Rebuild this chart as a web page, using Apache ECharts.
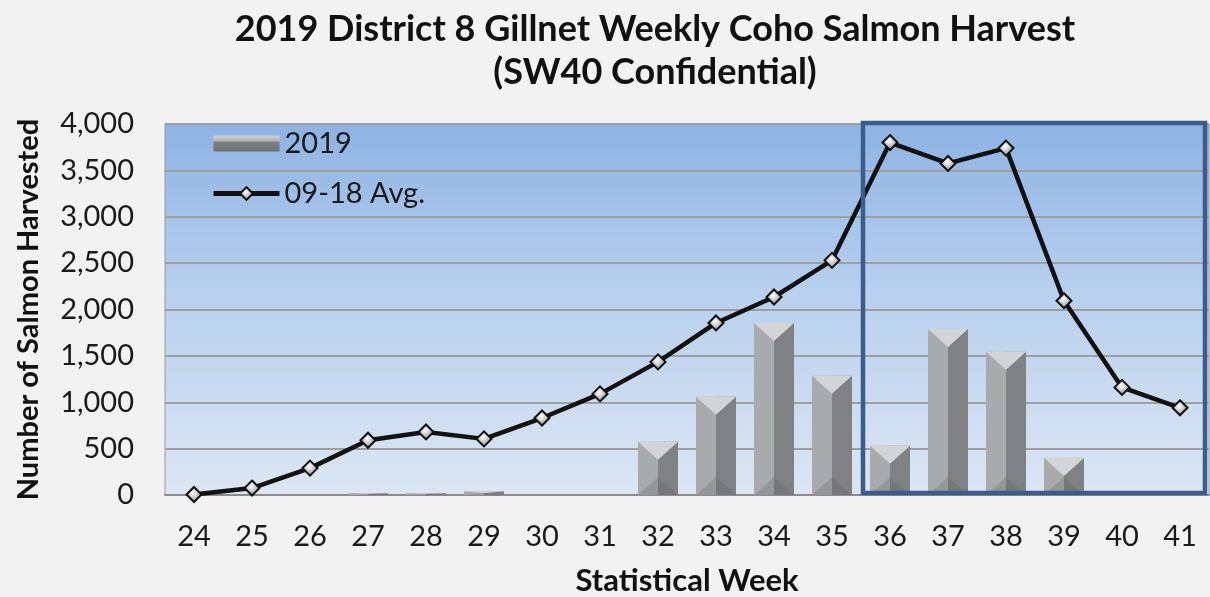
<!DOCTYPE html>
<html>
<head>
<meta charset="utf-8">
<script src="https://cdn.jsdelivr.net/npm/echarts@6/dist/echarts.min.js"></script>
<style>html,body{margin:0;padding:0;background:#f2f2f2}#c{width:1210px;height:597px}</style>
</head>
<body>
<div id="c"></div>
<script>
const weeks = ['24','25','26','27','28','29','30','31','32','33','34','35','36','37','38','39','40','41'];
const harvest2019 = [0,0,0,20,20,40,0,0,575,1060,1855,1285,530,1790,1545,400,0,0];
const avg0918 = [5,75,290,590,680,605,830,1090,1435,1855,2135,2530,3800,3575,3740,2095,1160,940];
const yTicks = [0,500,1000,1500,2000,2500,3000,3500,4000];
const boxWeeks = ['36','41'];

const FONT = 'Lato';
const chart = echarts.init(document.getElementById('c'));

function renderBar(params, api) {
  const xi = api.value(0), v = api.value(1);
  if (!v) return null;
  const top = api.coord([xi, v]);
  const base = api.coord([xi, 0]);
  const bw = api.size([1, 0])[0] * 0.69;
  const l = top[0] - bw / 2, r = top[0] + bw / 2, cx = top[0];
  const t = top[1], b = base[1];
  const h = b - t;
  const d = Math.min(bw * 0.45, h / 2);
  return {
    type: 'group',
    children: [
      {type: 'rect', shape: {x: l, y: t, width: bw / 2, height: h}, style: {fill: '#a9aaab'}},
      {type: 'rect', shape: {x: cx, y: t, width: bw / 2, height: h}, style: {fill: '#808182'}},
      {type: 'polygon', shape: {points: [[l, t], [r, t], [cx, t + d]]}, style: {fill: '#d3d4d5'}},
      {type: 'polygon', shape: {points: [[l, b], [cx, b - d], [cx, b]]}, style: {fill: '#959697'}},
      {type: 'polygon', shape: {points: [[cx, b], [cx, b - d], [r, b]]}, style: {fill: '#76777a'}}
    ]
  };
}

const markerStyle = {
  color: {type: 'radial', x: 0.45, y: 0.4, r: 0.6, colorStops: [{offset: 0, color: '#ffffff'}, {offset: 1, color: '#8a8a8a'}]},
  borderColor: '#111', borderWidth: 2
};

chart.setOption({
  animation: false,
  backgroundColor: '#f2f2f2',
  title: {
    text: '2019 District 8 Gillnet Weekly Coho Salmon Harvest\n(SW40 Confidential)',
    left: 650, textAlign: 'center', top: 3,
    textStyle: {fontFamily: FONT, fontWeight: 'bold', fontSize: 36, lineHeight: 43, color: '#111'}
  },
  legend: {
    orient: 'vertical', left: 206, top: 124, itemGap: 21, itemWidth: 66, itemHeight: 16,
    textStyle: {fontFamily: FONT, fontSize: 29, color: '#1a1a1a'},
    data: [
      {name: '2019', icon: 'rect'},
      {name: '09-18 Avg.', lineStyle: {width: 5, color: '#111'}, itemStyle: markerStyle}
    ]
  },
  grid: {
    left: 165, right: 1, top: 124, bottom: 102, show: true, borderColor: '#9a9a9a', borderWidth: 1,
    outerBoundsMode: 'none',
    backgroundColor: {type: 'linear', x: 0, y: 0, x2: 0, y2: 1, colorStops: [
      {offset: 0, color: '#8db3e3'}, {offset: 0.45, color: '#b8cfee'}, {offset: 1, color: '#dce6f3'}]}
  },
  xAxis: {
    type: 'category', data: weeks,
    axisLine: {lineStyle: {color: '#8c8c8c', width: 2}},
    axisTick: {show: false},
    axisLabel: {fontFamily: FONT, fontSize: 29, color: '#1a1a1a', margin: 27},
    name: 'Statistical Week', nameLocation: 'middle', nameGap: 70,
    nameTextStyle: {fontFamily: FONT, fontWeight: 'bold', fontSize: 31, color: '#111'}
  },
  yAxis: {
    type: 'value', min: 0, max: 4000, interval: 500,
    axisLine: {show: false}, axisTick: {show: false},
    splitLine: {lineStyle: {color: '#9d9fa2', width: 2}},
    axisLabel: {fontFamily: FONT, fontSize: 29, color: '#1a1a1a', margin: 31,
      formatter: v => yTicks.indexOf(v) >= 0 ? v.toLocaleString('en-US') : ''},
    name: 'Number of Salmon Harvested', nameLocation: 'middle', nameGap: 122,
    nameTextStyle: {fontFamily: FONT, fontWeight: 'bold', fontSize: 29, color: '#111'}
  },
  series: [
    {
      name: '2019', type: 'custom', renderItem: renderBar,
      data: harvest2019.map((v, i) => [i, v]),
      encode: {x: 0, y: 1},
      itemStyle: {color: {type: 'linear', x: 0, y: 0, x2: 0, y2: 1, colorStops: [
        {offset: 0, color: '#d2d3d4'}, {offset: 0.35, color: '#b0b1b2'}, {offset: 0.4, color: '#808182'}, {offset: 1, color: '#707172'}]}},
      z: 2
    },
    {
      name: '09-18 Avg.', type: 'line', data: avg0918,
      symbol: 'diamond', symbolSize: 15,
      lineStyle: {color: '#111', width: 4.5},
      itemStyle: markerStyle,
      z: 3
    }
  ]
});

function drawBox() {
  const a = chart.convertToPixel({xAxisIndex: 0}, boxWeeks[0]);
  const b = chart.convertToPixel({xAxisIndex: 0}, boxWeeks[1]);
  const band = (b - a) / (weeks.indexOf(boxWeeks[1]) - weeks.indexOf(boxWeeks[0]));
  const yTop = chart.convertToPixel({yAxisIndex: 0}, 4000);
  const yBot = chart.convertToPixel({yAxisIndex: 0}, 0);
  const x0 = a - band / 2 + 2, x1 = b + band / 2 - 4;
  chart.setOption({
    graphic: [{
      type: 'rect', z: 10,
      shape: {x: x0, y: yTop - 1, width: x1 - x0, height: yBot - yTop - 1},
      style: {fill: 'none', stroke: '#3a5d8b', lineWidth: 4.5}
    }]
  });
}
drawBox();
</script>
</body>
</html>
